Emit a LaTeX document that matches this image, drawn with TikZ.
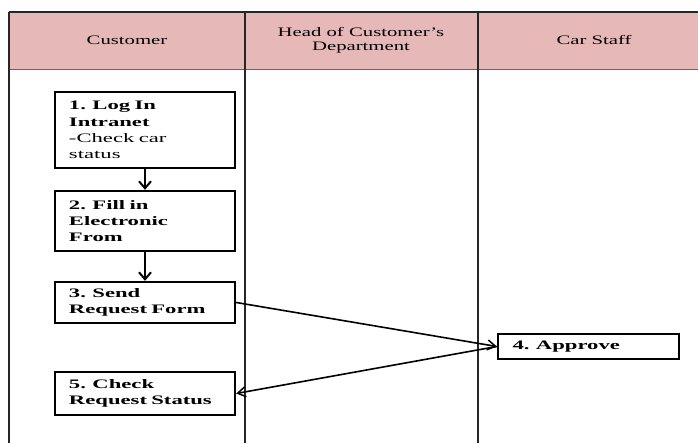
\documentclass[tikz,border=0pt]{standalone}
\usepackage{fontspec}
\usepackage{tikz}
\usetikzlibrary{arrows.meta}
\setmainfont{Liberation Serif}[FakeStretch=1.6]
\newfontfamily\stepfont{Liberation Serif}[FakeStretch=1.75,WordSpace=1.3]
\definecolor{hdrpink}{RGB}{230,184,183}

\begin{document}
\begin{tikzpicture}[x=1bp,y=-1bp,
    lane/.style={line width=1.3bp,black!85},
    lanehead/.style={font=\fontsize{13}{14}\selectfont,align=center},
    stepbox/.style={draw,line width=2.4bp,minimum width=180bp,inner xsep=14bp,
      inner ysep=2bp,text width=152bp,align=left,
      font=\stepfont\bfseries\fontsize{13}{16.3}\selectfont},
    flow/.style={line width=2.2bp,-{Straight Barb[length=7bp,width=12bp,line width=2bp]}},
    pass/.style={line width=1.6bp,-{Straight Barb[length=8bp,width=10bp,line width=1.5bp]}}]
  \useasboundingbox (0,0) rectangle (698,443);
  \begin{scope}
    % swim lanes
    \fill[hdrpink] (9,12) rectangle (698,69);
    \draw[lane] (9,12) -- (698,12);
    \draw[lane,black!60] (9,69.5) -- (698,69.5);
    \foreach \x in {9,245,478}
      \draw[lane] (\x,12) -- (\x,443);
    \node[lanehead] (customer) at (127,40) {Customer};
    \node[lanehead] (head) at (361,40) {Head of Customer's\\Department};
    \node[lanehead] (staff) at (594,40) {Car Staff};

    % steps
    \node[stepbox,minimum height=76bp] (login) at (145,130)
      {\mbox{1. Log In}\\Intranet\\\mdseries \mbox{-Check car}\\\mdseries status};
    \node[stepbox,minimum height=60bp] (fill) at (145,221)
      {\mbox{2. Fill in}\\Electronic\\From};
    \node[stepbox,minimum height=41bp] (send) at (145,302.5)
      {3. Send\\\mbox{Request Form}};
    \node[stepbox,minimum height=43bp] (check) at (145,393.5)
      {5. Check\\\mbox{Request Status}};
    \node[stepbox,minimum width=181bp,minimum height=25bp] (approve) at (588.5,346.5)
      {4. Approve};

    \draw[flow] (login) -- (fill);
    \draw[flow] (fill) -- (send);
    \draw[pass] (send.east) -- (approve.west);
    \draw[pass] (approve.west) -- (check.east);
  \end{scope}
\end{tikzpicture}
\end{document}
